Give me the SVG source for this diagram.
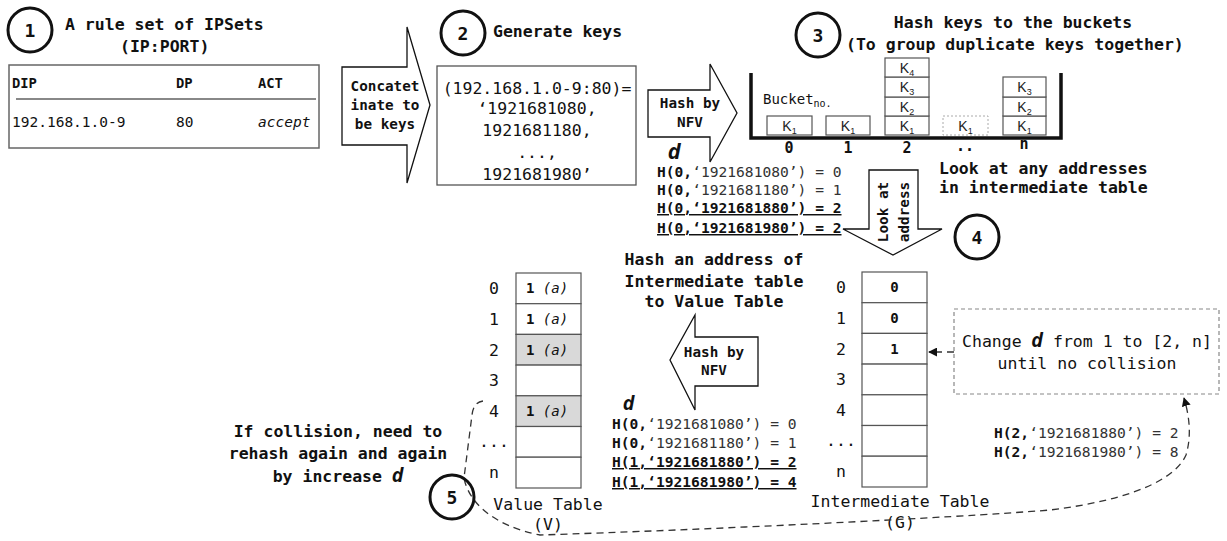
<svg xmlns="http://www.w3.org/2000/svg" width="1227" height="541" viewBox="0 0 1227 541">
  <style>
    text { font-family: "DejaVu Sans Mono", "Liberation Mono", monospace; fill: #111; }
    .b { font-weight: bold; }
    .t { font-size: 16.5px; font-weight: bold; }
    .r { font-size: 16.5px; }
    .h { font-size: 14.6px; fill: #333; }
    .hb { font-size: 14.6px; font-weight: bold; text-decoration: underline; }
    .ar { font-size: 14.3px; font-weight: bold; }
    .num { font-size: 18px; font-weight: bold; text-anchor: middle; }
    .mid { text-anchor: middle; }
    .circle { fill: #fff; stroke: #111; stroke-width: 3; }
    .blk { fill: #fff; stroke: #111; stroke-width: 1.3; }
    .cell { fill: #fff; stroke: #555; stroke-width: 1.2; }
    .grey { fill: #d9d9d9; }
    .k { font-family: "Liberation Sans", Arial, sans-serif; font-size: 14px; text-anchor: middle; fill: #222; }
    .k tspan { font-size: 9px; }
    .dash { fill: none; stroke: #333; stroke-width: 1.3; stroke-dasharray: 7 5; }
  </style>
  <defs>
    <marker id="head" viewBox="0 0 10 10" refX="9" refY="5" markerWidth="9" markerHeight="9" markerUnits="userSpaceOnUse" orient="auto">
      <path d="M0,0 L10,5 L0,10 z" fill="#111"/>
    </marker>
  </defs>

  <!-- step 1: rule set -->
  <g id="step1">
    <circle class="circle" cx="30" cy="30" r="22"/>
    <text class="num" x="30" y="37">1</text>
    <text class="t" x="65" y="30">A rule set of IPSets</text>
    <text class="t" x="120" y="52">(IP:PORT)</text>
    <rect x="9" y="65" width="310" height="83" fill="#fff" stroke="#666" stroke-width="1.5"/>
    <text class="b" font-size="13.8" x="12" y="88">DIP</text>
    <text class="b" font-size="13.8" x="176" y="88">DP</text>
    <text class="b" font-size="13.8" x="258" y="88">ACT</text>
    <line x1="16" y1="99" x2="316" y2="99" stroke="#888" stroke-width="2"/>
    <text font-size="14.5" x="12" y="127">192.168.1.0-9</text>
    <text font-size="14.5" x="176" y="127">80</text>
    <text font-size="14.5" font-style="italic" x="258" y="127">accept</text>
  </g>

  <!-- concatenate arrow -->
  <g id="concat">
    <polygon class="blk" points="342,67 407,67 407,27 430,105 407,183 407,145 342,145"/>
    <text class="ar mid" x="385" y="91">Concatet</text>
    <text class="ar mid" x="385" y="110">inate to</text>
    <text class="ar mid" x="385" y="129">be keys</text>
  </g>

  <!-- step 2: keys -->
  <g id="step2">
    <circle class="circle" cx="463" cy="33" r="22"/>
    <text class="num" x="463" y="40">2</text>
    <text class="t" x="493" y="37">Generate keys</text>
    <rect x="437" y="66" width="199" height="119" fill="#fff" stroke="#555" stroke-width="1.3"/>
    <text class="r mid" x="537" y="94">(192.168.1.0-9:80)=</text>
    <text class="r mid" x="537" y="114">‘1921681080,</text>
    <text class="r mid" x="537" y="136">1921681180,</text>
    <text class="r mid" x="537" y="158">...,</text>
    <text class="r mid" x="537" y="180">1921681980’</text>
  </g>

  <!-- hash by NFV (to buckets) -->
  <g id="hash1">
    <polygon class="blk" points="648,90 710,90 710,64 737,113 710,162 710,137 648,137"/>
    <text class="ar mid" x="690" y="108">Hash by</text>
    <text class="ar mid" x="690" y="127">NFV</text>
    <text x="668" y="159" font-size="21" font-weight="bold" font-style="italic">d</text>
    <text class="h" x="657" y="177"><tspan font-weight="bold" fill="#111">H(0,</tspan>‘1921681080’) = 0</text>
    <text class="h" x="657" y="195"><tspan font-weight="bold" fill="#111">H(0,</tspan>‘1921681180’) = 1</text>
    <text class="hb" x="657" y="213">H(0,‘1921681880’) = 2</text>
    <text class="hb" x="657" y="233">H(0,‘1921681980’) = 2</text>
  </g>

  <!-- step 3: buckets -->
  <g id="step3">
    <circle class="circle" cx="818" cy="35" r="22"/>
    <text class="num" x="818" y="42">3</text>
    <text class="t mid" x="1013" y="28">Hash keys to the buckets</text>
    <text class="t" x="846" y="50">(To group duplicate keys together)</text>
    <path d="M751,73 L751,138 L1061,138 L1061,73" fill="none" stroke="#111" stroke-width="3.5"/>
    <text font-size="14" x="763" y="104">Bucket<tspan font-size="10" dy="3">no.</tspan></text>
    <!-- bucket 0 -->
    <rect class="cell" x="767" y="116" width="45" height="19"/>
    <text class="k" x="789.5" y="131">K<tspan dy="3">1</tspan></text>
    <!-- bucket 1 -->
    <rect class="cell" x="826" y="116" width="44" height="19"/>
    <text class="k" x="848" y="131">K<tspan dy="3">1</tspan></text>
    <!-- bucket 2 -->
    <rect class="cell" x="885" y="116" width="44" height="19"/>
    <rect class="cell" x="885" y="97" width="44" height="19"/>
    <rect class="cell" x="885" y="77" width="44" height="20"/>
    <rect class="cell" x="885" y="58" width="44" height="19"/>
    <text class="k" x="907" y="131">K<tspan dy="3">1</tspan></text>
    <text class="k" x="907" y="112">K<tspan dy="3">2</tspan></text>
    <text class="k" x="907" y="92">K<tspan dy="3">3</tspan></text>
    <text class="k" x="907" y="73">K<tspan dy="3">4</tspan></text>
    <!-- bucket .. -->
    <rect x="943" y="116" width="45" height="19" fill="#fff" stroke="#aaa" stroke-width="1" stroke-dasharray="2 2"/>
    <text class="k" x="965.5" y="131">K<tspan dy="3">1</tspan></text>
    <!-- bucket n -->
    <rect class="cell" x="1003" y="116" width="43" height="19"/>
    <rect class="cell" x="1003" y="97" width="43" height="19"/>
    <rect class="cell" x="1003" y="77" width="43" height="20"/>
    <text class="k" x="1024.5" y="131">K<tspan dy="3">1</tspan></text>
    <text class="k" x="1024.5" y="112">K<tspan dy="3">2</tspan></text>
    <text class="k" x="1024.5" y="92">K<tspan dy="3">3</tspan></text>
    <text class="b mid" font-size="15" x="789" y="153">0</text>
    <text class="b mid" font-size="15" x="848" y="153">1</text>
    <text class="b mid" font-size="15" x="907" y="153">2</text>
    <text class="b mid" font-size="15" x="965" y="151">..</text>
    <text class="b mid" font-size="15" x="1024" y="149">n</text>
    <text class="t" x="939" y="174">Look at any addresses</text>
    <text class="t" x="939" y="193">in intermediate table</text>
  </g>

  <!-- look at address arrow -->
  <g id="lookat">
    <polygon class="blk" points="869,170 918,170 918,229 942,229 893,255 843,229 869,229"/>
    <text class="ar mid" transform="translate(888,212) rotate(-90)">Look at</text>
    <text class="ar mid" transform="translate(909,212) rotate(-90)">address</text>
  </g>

  <!-- step 4 marker -->
  <g id="step4">
    <circle class="circle" cx="977" cy="237" r="22"/>
    <text class="num" x="977" y="244">4</text>
  </g>

  <!-- intermediate table G -->
  <g id="intermediate">
    <rect class="cell" x="862" y="272" width="65" height="30.7"/>
    <rect class="cell" x="862" y="302.7" width="65" height="30.7"/>
    <rect class="cell" x="862" y="333.4" width="65" height="30.7"/>
    <rect class="cell" x="862" y="364.1" width="65" height="30.7"/>
    <rect class="cell" x="862" y="394.8" width="65" height="30.7"/>
    <rect class="cell" x="862" y="425.5" width="65" height="30.7"/>
    <rect class="cell" x="862" y="456.2" width="65" height="30.8"/>
    <text class="b mid" font-size="14" x="894.5" y="292">0</text>
    <text class="b mid" font-size="14" x="894.5" y="323">0</text>
    <text class="b mid" font-size="14" x="894.5" y="354">1</text>
    <text class="r mid" x="841" y="293">0</text>
    <text class="r mid" x="841" y="324">1</text>
    <text class="r mid" x="841" y="355">2</text>
    <text class="r mid" x="841" y="385">3</text>
    <text class="r mid" x="841" y="416">4</text>
    <text class="r mid" x="841" y="446">...</text>
    <text class="r mid" x="841" y="477">n</text>
    <text class="r mid" x="900" y="507">Intermediate Table</text>
    <text class="r mid" x="900" y="528">(G)</text>
  </g>

  <!-- hash address to value table -->
  <g id="hash2">
    <text class="t mid" x="714" y="265">Hash an address of</text>
    <text class="t mid" x="714" y="287">Intermediate table</text>
    <text class="t mid" x="714" y="307">to Value Table</text>
    <polygon class="blk" points="758,337 758,386 695,386 695,410 670,360 695,315 695,337"/>
    <text class="ar mid" x="714" y="357">Hash by</text>
    <text class="ar mid" x="714" y="375">NFV</text>
    <text x="623" y="410" font-size="19" font-weight="bold" font-style="italic">d</text>
    <text class="h" x="612" y="429"><tspan font-weight="bold" fill="#111">H(0,</tspan>‘1921681080’) = 0</text>
    <text class="h" x="612" y="448"><tspan font-weight="bold" fill="#111">H(0,</tspan>‘1921681180’) = 1</text>
    <text class="hb" x="612" y="467">H(1,‘1921681880’) = 2</text>
    <text class="hb" x="612" y="487">H(1,‘1921681980’) = 4</text>
  </g>

  <!-- value table V -->
  <g id="value">
    <rect class="cell" x="516" y="273" width="65" height="30.7"/>
    <rect class="cell" x="516" y="303.7" width="65" height="30.7"/>
    <rect class="cell grey" x="516" y="334.4" width="65" height="30.7"/>
    <rect class="cell" x="516" y="365.1" width="65" height="30.7"/>
    <rect class="cell grey" x="516" y="395.8" width="65" height="30.7"/>
    <rect class="cell" x="516" y="426.5" width="65" height="30.7"/>
    <rect class="cell" x="516" y="457.2" width="65" height="30.8"/>
    <text class="b" font-size="14" x="526" y="293">1 <tspan font-style="italic" font-weight="normal">(a)</tspan></text>
    <text class="b" font-size="14" x="526" y="324">1 <tspan font-style="italic" font-weight="normal">(a)</tspan></text>
    <text class="b" font-size="14" x="526" y="355">1 <tspan font-style="italic" font-weight="normal">(a)</tspan></text>
    <text class="b" font-size="14" x="526" y="416">1 <tspan font-style="italic" font-weight="normal">(a)</tspan></text>
    <text class="r mid" x="494" y="294">0</text>
    <text class="r mid" x="494" y="325">1</text>
    <text class="r mid" x="494" y="356">2</text>
    <text class="r mid" x="494" y="386">3</text>
    <text class="r mid" x="494" y="417">4</text>
    <text class="r mid" x="494" y="447">...</text>
    <text class="r mid" x="494" y="478">n</text>
    <text class="r mid" x="548" y="510">Value Table</text>
    <text class="r mid" x="548" y="530">(V)</text>
  </g>

  <!-- step 5: rehash note -->
  <g id="step5">
    <text class="t mid" x="338" y="437">If collision, need to</text>
    <text class="t mid" x="338" y="459">rehash again and again</text>
    <text class="t mid" x="338" y="482">by increase <tspan font-style="italic" font-size="19">d</tspan></text>
  </g>

  <!-- collision handling note -->
  <g id="change">
    <rect x="954" y="309" width="265" height="85" fill="#fff" stroke="#888" stroke-width="1.2" stroke-dasharray="4 3"/>
    <text class="r mid" x="1087" y="347">Change <tspan font-weight="bold" font-style="italic" font-size="19">d</tspan> from 1 to [2, n]</text>
    <text class="r mid" x="1087" y="369">until no collision</text>
    <text class="h" x="994" y="438"><tspan font-weight="bold" fill="#111">H(2,</tspan>‘1921681880’) = 2</text>
    <text class="h" x="994" y="457"><tspan font-weight="bold" fill="#111">H(2,</tspan>‘1921681980’) = 8</text>
  </g>

  <!-- connectors -->
  <g id="connectors">
    <path class="dash" d="M954,352 L929,352" stroke-dasharray="5 4" marker-end="url(#head)"/>
    <path class="dash" d="M483,401 C476,402 473,407 472,415 L464,478 C468,500 490,525 540,535 C700,530 950,518 1050,510 C1130,500 1175,480 1186,455 C1192,435 1189,415 1184,398" marker-end="url(#head)"/>
  </g>

  <!-- circle 5 drawn above the dashed path -->
  <g id="step5-marker">
    <circle cx="452" cy="497" r="22" fill="none" stroke="#111" stroke-width="3"/>
    <text class="num" x="452" y="504">5</text>
  </g>
</svg>
